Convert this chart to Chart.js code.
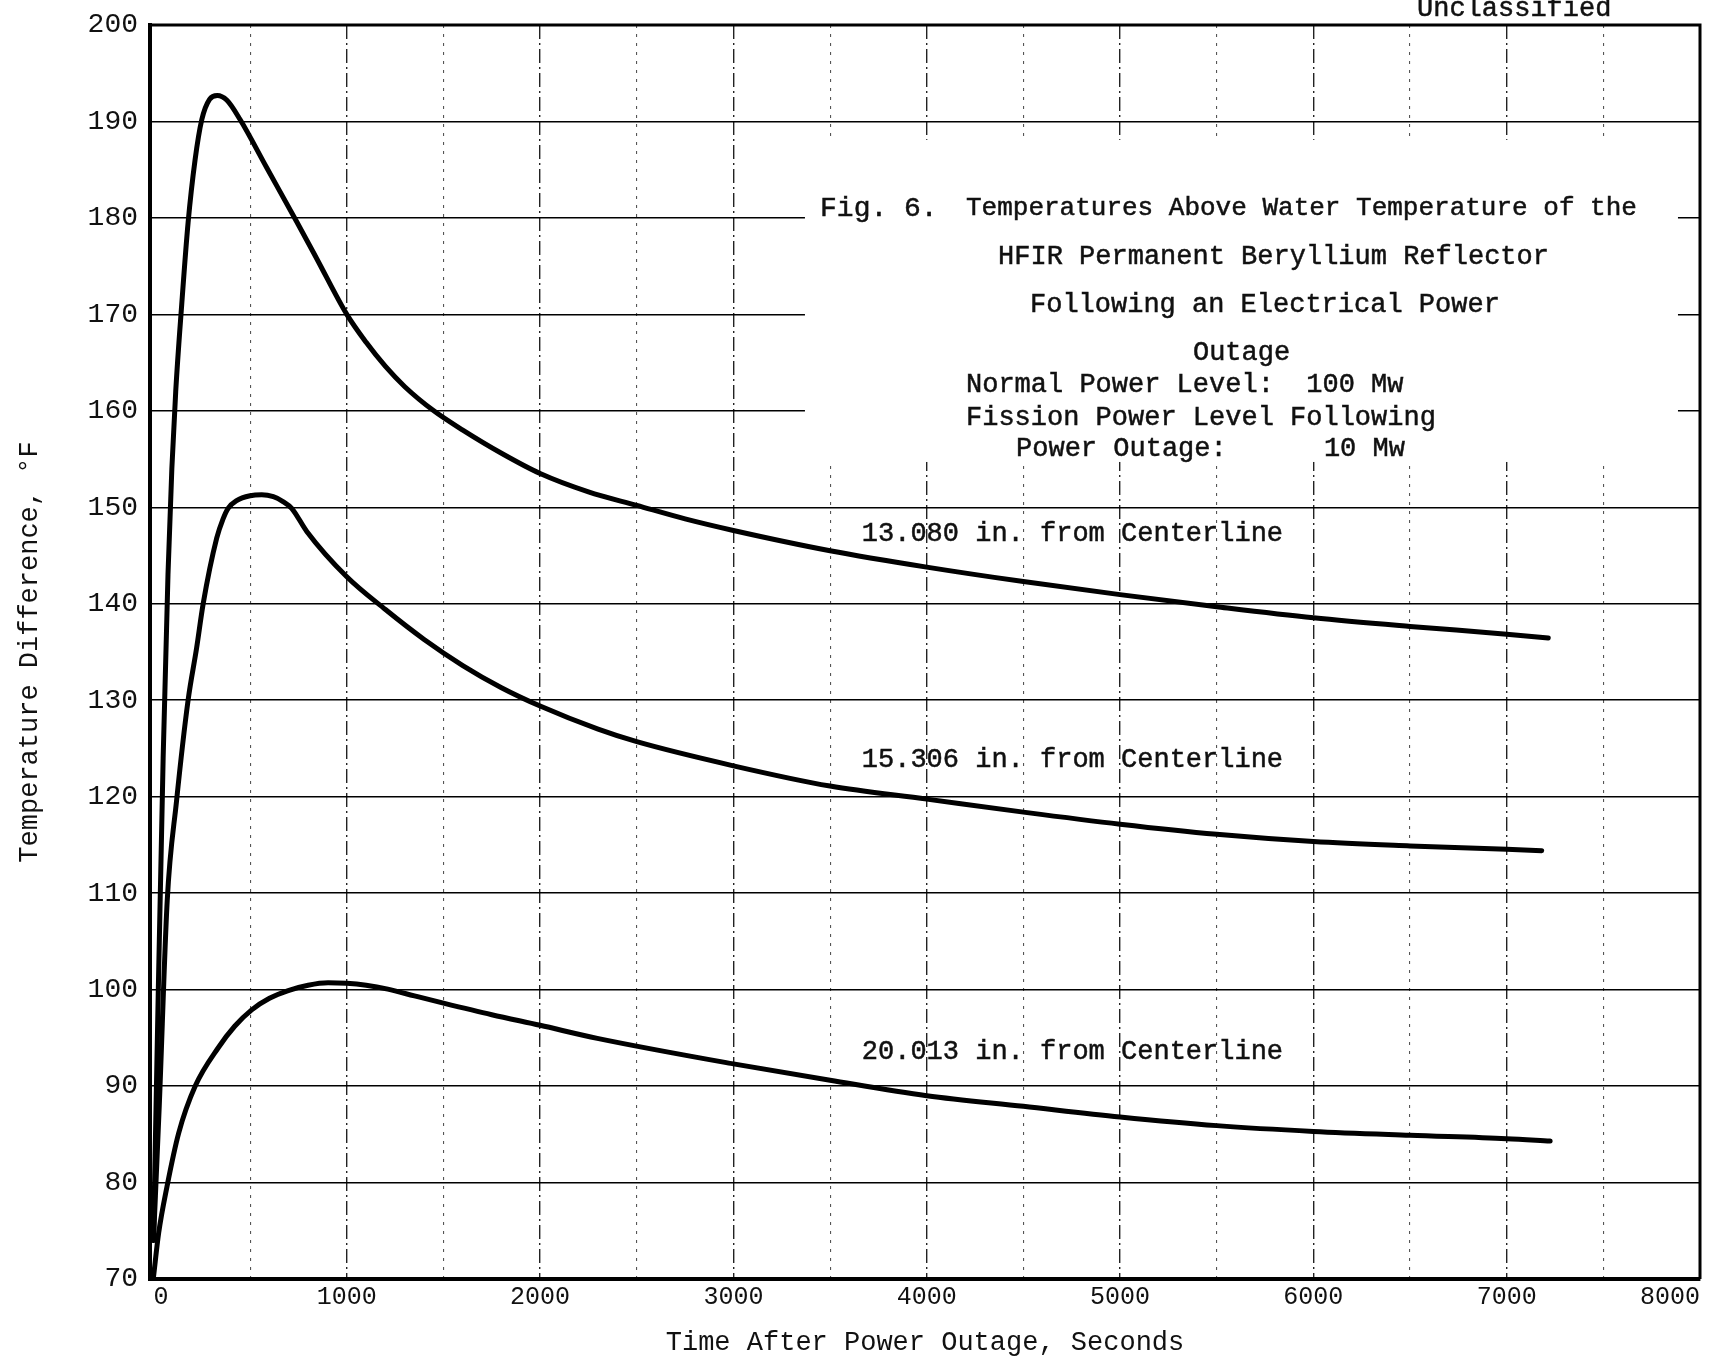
<!DOCTYPE html>
<html>
<head>
<meta charset="utf-8">
<title>HFIR Permanent Beryllium Reflector - Fig. 6</title>
<script src="https://cdn.jsdelivr.net/npm/chart.js@4.4.1/dist/chart.umd.min.js"></script>
<style>
  html, body { margin: 0; padding: 0; background: #fff; }
  #wrap { width: 1714px; height: 1361px; position: relative; }
</style>
</head>
<body>
<div id="wrap"><canvas id="chart"></canvas></div>
<script>
// 13.080 in. from centerline
const time13 = [0, 25, 50, 75, 95, 115, 146, 179, 215, 250, 290, 330, 380, 448, 586, 741, 844, 1000, 1100, 1200, 1300, 1450, 1600, 1800, 2000, 2250, 2500, 2750, 3000, 3500, 4000, 4500, 5000, 5500, 6000, 6500, 7000, 7215];
const temp13 = [74, 100, 124, 143, 154, 162, 171, 179.5, 186, 190.2, 192.3, 192.7, 192.2, 190.2, 185.2, 179.6, 175.8, 170, 167.1, 164.6, 162.5, 160, 158, 155.6, 153.5, 151.6, 150.2, 148.8, 147.6, 145.5, 143.8, 142.3, 140.95, 139.7, 138.55, 137.65, 136.85, 136.45];

// 15.306 in. from centerline
const time15 = [0, 30, 71, 119, 179, 223, 257, 327, 360, 386, 430, 500, 560, 620, 670, 715, 793, 1000, 1200, 1400, 1600, 1800, 2000, 2300, 2500, 3000, 3500, 4000, 4500, 5000, 5500, 6000, 6500, 7000, 7181];
const temp15 = [74, 88, 109.2, 119.5, 130, 135.4, 140, 146.8, 148.8, 149.9, 150.7, 151.2, 151.3, 151.1, 150.6, 149.9, 147.5, 142.8, 139.4, 136.3, 133.6, 131.3, 129.4, 127.0, 125.7, 123.2, 121.1, 119.75, 118.4, 117.15, 116.1, 115.35, 114.9, 114.55, 114.4];

// 20.013 in. from centerline
const time20 = [0, 27, 70, 130, 216, 336, 420, 508, 600, 697, 800, 903, 1000, 1100, 1212, 1350, 1500, 1750, 2000, 2296, 3000, 3500, 4000, 4500, 5000, 5500, 6000, 6500, 7000, 7225];
const temp20 = [70.2, 74.8, 79.6, 85.1, 90, 94, 96.2, 97.9, 99.1, 99.9, 100.45, 100.7, 100.65, 100.45, 100.05, 99.35, 98.6, 97.4, 96.3, 94.95, 92.3, 90.6, 89.0, 87.9, 86.8, 85.9, 85.3, 84.9, 84.55, 84.3];

const seriesNames = ['13.080 in. from Centerline', '15.306 in. from Centerline', '20.013 in. from Centerline'];
const xGridValues = [0, 500, 1000, 1500, 2000, 2500, 3000, 3500, 4000, 4500, 5000, 5500, 6000, 6500, 7000, 7500, 8000];

// placement of the typed captions, in data units
const curveLabels = [
  { text: seriesNames[0], x: 3664, y: 147.3 },
  { text: seriesNames[1], x: 3664, y: 123.8 },
  { text: seriesNames[2], x: 3664, y: 93.5 }
];
const captionBox = { x0: 3370, x1: 7886, y0: 154.7, y1: 188.1 };
const captionLines = [
  { text: 'Fig. 6.', x: 3448, y: 181.0, size: 28 },
  { text: 'Temperatures Above Water Temperature of the', x: 4203, y: 181.0, size: 26 },
  { text: 'HFIR Permanent Beryllium Reflector', x: 4369, y: 176.0, size: 27 },
  { text: 'Following an Electrical Power', x: 4534, y: 171.0, size: 27 },
  { text: 'Outage', x: 5377, y: 166.0, size: 27 },
  { text: 'Normal Power Level:  100 Mw', x: 4203, y: 162.7, size: 27 },
  { text: 'Fission Power Level Following', x: 4203, y: 159.3, size: 27 },
  { text: 'Power Outage:      10 Mw', x: 4462, y: 156.1, size: 27 },
  { text: 'Unclassified', x: 6536, y: 201.7, size: 27 }
];

const FONT = '"Liberation Mono", "Courier New", monospace';
Chart.defaults.font.family = FONT;
Chart.defaults.color = '#111';

const toPoints = (xs, ys) => xs.map((t, i) => ({ x: t, y: ys[i] }));

const figureText = {
  id: 'figureText',
  beforeDatasetsDraw(chart) {
    const { ctx, scales: { x, y } } = chart;
    const l = x.getPixelForValue(captionBox.x0);
    const r = x.getPixelForValue(captionBox.x1);
    const t = y.getPixelForValue(captionBox.y1);
    const b = y.getPixelForValue(captionBox.y0);
    ctx.save();
    ctx.fillStyle = '#fff';
    ctx.fillRect(l, t, r - l, b - t);
    ctx.restore();
  },
  afterDraw(chart) {
    const { ctx, chartArea: a, scales: { x, y } } = chart;
    ctx.save();
    // top and right edges of the frame
    ctx.strokeStyle = '#000';
    ctx.lineWidth = 3;
    ctx.beginPath();
    ctx.moveTo(a.left, a.top);
    ctx.lineTo(a.right, a.top);
    ctx.lineTo(a.right, a.bottom);
    ctx.stroke();

    ctx.fillStyle = '#111';
    ctx.strokeStyle = '#111';
    ctx.lineWidth = 0.5;
    ctx.textAlign = 'left';
    ctx.textBaseline = 'middle';
    const put = (text, px, py) => { ctx.fillText(text, px, py); ctx.strokeText(text, px, py); };
    captionLines.forEach(c => {
      ctx.font = c.size + 'px ' + FONT;
      put(c.text, x.getPixelForValue(c.x), y.getPixelForValue(c.y));
    });
    ctx.font = '27px ' + FONT;
    curveLabels.forEach(c => {
      put(c.text, x.getPixelForValue(c.x), y.getPixelForValue(c.y));
    });
    ctx.restore();
  }
};

const lineStyle = {
  borderColor: '#000',
  borderWidth: 5,
  pointRadius: 0,
  fill: false,
  cubicInterpolationMode: 'monotone',
  borderCapStyle: 'round',
  borderJoinStyle: 'round'
};

new Chart(document.getElementById('chart'), {
  type: 'line',
  data: {
    datasets: [
      { label: seriesNames[0], data: toPoints(time13, temp13), ...lineStyle },
      { label: seriesNames[1], data: toPoints(time15, temp15), ...lineStyle },
      { label: seriesNames[2], data: toPoints(time20, temp20), ...lineStyle }
    ]
  },
  options: {
    responsive: true,
    maintainAspectRatio: false,
    animation: false,
    layout: { padding: { top: 25, right: 14, left: 0, bottom: 0 } },
    plugins: { legend: { display: false }, tooltip: { enabled: false } },
    scales: {
      x: {
        type: 'linear',
        min: -18,
        max: 8000,
        afterBuildTicks: axis => { axis.ticks = xGridValues.map(v => ({ value: v })); },
        afterFit: axis => { axis.height = 82; axis.paddingLeft = 0; axis.paddingRight = 0; },
        ticks: {
          autoSkip: false,
          maxRotation: 0,
          align: 'inner',
          padding: 3,
          color: '#111',
          font: { size: 25 },
          callback: v => (v % 1000 === 0 ? String(v) : '')
        },
        grid: {
          drawTicks: false,
          color: c => (c.tick && c.tick.value === 0 ? 'rgba(0,0,0,0)' : (c.tick && c.tick.value % 1000 === 0 ? '#222' : '#555')),
          lineWidth: c => (c.tick && c.tick.value % 1000 === 0 ? 1.4 : 1.1)
        },
        border: {
          display: true,
          width: 4,
          color: '#000',
          dash: c => (c.tick && c.tick.value % 1000 === 0 ? [14, 4, 2, 4] : [3, 6])
        },
        title: {
          display: true,
          text: 'Time After Power Outage, Seconds',
          color: '#111',
          font: { size: 27 },
          padding: { top: 0, bottom: 2 }
        }
      },
      y: {
        type: 'linear',
        min: 70,
        max: 200,
        afterFit: axis => { axis.width = 150; axis.paddingTop = 0; axis.paddingBottom = 0; },
        ticks: { stepSize: 10, padding: 12, color: '#111', font: { size: 28 } },
        grid: { drawTicks: false, color: '#000', lineWidth: 1.6 },
        border: { display: true, width: 4, color: '#000' },
        title: {
          display: true,
          text: 'Temperature Difference, °F',
          color: '#111',
          font: { size: 27 },
          padding: { top: 14, bottom: 0 }
        }
      }
    }
  },
  plugins: [figureText]
});
</script>
</body>
</html>
